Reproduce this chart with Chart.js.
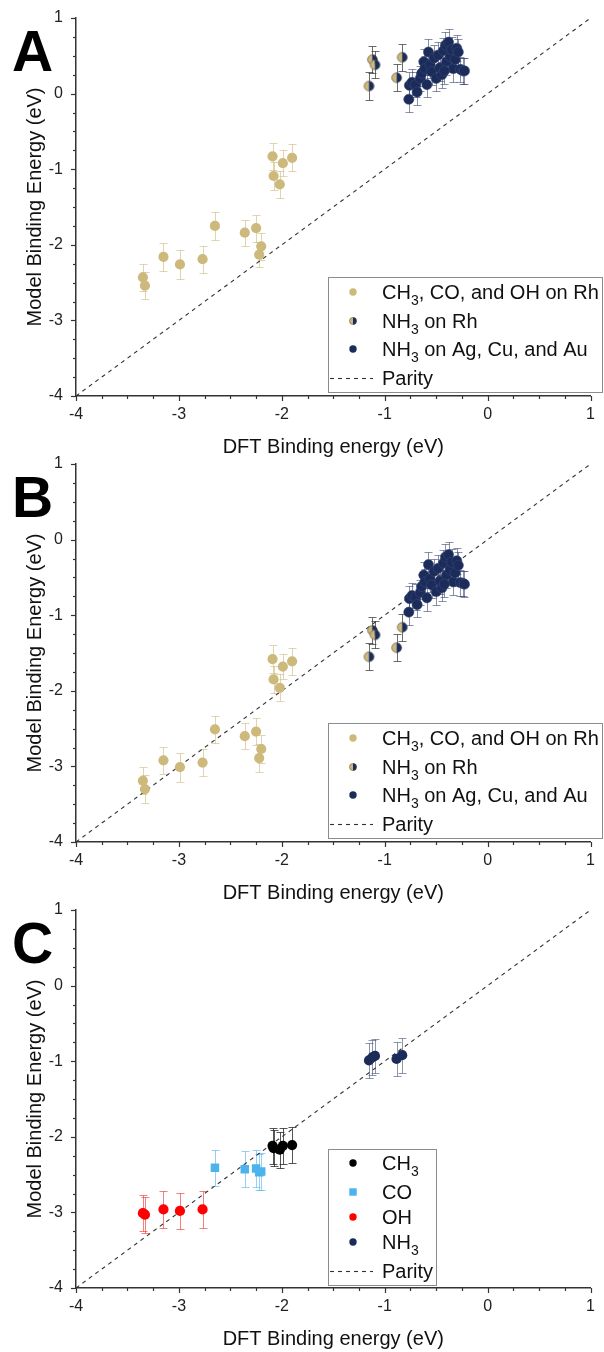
<!DOCTYPE html>
<html>
<head>
<meta charset="utf-8">
<script src="https://cdn.jsdelivr.net/npm/chart.js@4.4.1/dist/chart.umd.min.js"></script>
<style>
  html, body { margin: 0; padding: 0; background: #fff; }
  body { width: 604px; height: 1352px; position: relative; overflow: hidden; }
  canvas { position: absolute; left: 0; }
</style>
</head>
<body>
<canvas id="panelA" width="604" height="460" style="top:0px"></canvas>
<canvas id="panelB" width="604" height="460" style="top:446px"></canvas>
<canvas id="panelC" width="604" height="460" style="top:892px"></canvas>
<script>
// ---- axis ticks ----
const majorTicks = [-4, -3, -2, -1, 0, 1];

// ---- CH3 / CO / OH on Rh: DFT binding energies (eV) ----
const ohDFT  = [-3.35, -3.33, -3.15, -2.99, -2.77];
const coDFT  = [-2.65, -2.36, -2.25, -2.22, -2.20];
const ch3DFT = [-2.09, -2.08, -2.02, -1.99, -1.90];

// model A / model B predictions for the same 15 Rh adsorbates (OH, CO, CH3 order)
const rhModelA = [-2.43, -2.54, -2.16, -2.26, -2.19,  -1.75, -1.84, -1.78, -2.13, -2.02,  -0.83, -1.09, -1.20, -0.92, -0.85];
const rhModelB = [-3.19, -3.30, -2.92, -3.01, -2.95,  -2.51, -2.60, -2.54, -2.89, -2.77,  -1.58, -1.85, -1.96, -1.68, -1.61];
const rhErrA   = [0.18, 0.18, 0.18, 0.19, 0.18,  0.18, 0.17, 0.18, 0.17, 0.18,  0.18, 0.18, 0.18, 0.17, 0.18];
const rhErrB   = [0.18, 0.18, 0.18, 0.19, 0.18,  0.18, 0.17, 0.18, 0.18, 0.18,  0.18, 0.18, 0.18, 0.17, 0.18];

// model C, split per adsorbate
const ohModelC  = [-3.01, -3.03, -2.96, -2.98, -2.96];
const coModelC  = [-2.41, -2.43, -2.42, -2.47, -2.46];
const ch3ModelC = [-2.12, -2.15, -2.17, -2.12, -2.11];
const ohErrC  = [0.24, 0.24, 0.24, 0.24, 0.24];
const coErrC  = [0.24, 0.24, 0.24, 0.24, 0.24];
const ch3ErrC = [0.24, 0.24, 0.24, 0.24, 0.24];

// ---- NH3 on Rh ----
const nh3RhDFT    = [-1.153, -1.12, -1.095, -0.885, -0.83];
const nh3RhModelA = [0.10, 0.45, 0.38, 0.21, 0.48];
const nh3RhModelB = [-1.55, -1.20, -1.26, -1.43, -1.16];
const nh3RhModelC = [-0.99, -0.95, -0.93, -0.97, -0.92];
const nh3RhErrAB  = [0.18, 0.18, 0.18, 0.18, 0.18];
const nh3RhErrC   = [0.23, 0.23, 0.23, 0.23, 0.23];

// ---- NH3 on Ag, Cu and Au ----
const nh3MDFT = [-0.766, -0.760, -0.735, -0.700, -0.685, -0.655, -0.640, -0.620, -0.610, -0.575,
                 -0.560, -0.545, -0.520, -0.500, -0.480, -0.465, -0.445, -0.430, -0.410, -0.400,
                 -0.380, -0.365, -0.350, -0.335, -0.315, -0.300, -0.285, -0.265, -0.240, -0.225,
                 -0.420, -0.590];
const nh3MModelA = [-0.075, 0.11, 0.15, 0.12, 0.02, 0.20, 0.27, 0.42, 0.33, 0.55,
                    0.38, 0.29, 0.47, 0.20, 0.51, 0.34, 0.25, 0.57, 0.64, 0.42,
                    0.68, 0.49, 0.58, 0.33, 0.45, 0.60, 0.55, 0.32, 0.30, 0.30,
                    0.30, 0.12];
const nh3MModelB = [-0.96, -0.78, -0.74, -0.76, -0.86, -0.70, -0.62, -0.47, -0.56, -0.33,
                    -0.52, -0.60, -0.42, -0.69, -0.38, -0.55, -0.64, -0.31, -0.23, -0.47,
                    -0.20, -0.40, -0.30, -0.56, -0.44, -0.28, -0.34, -0.57, -0.58, -0.59,
                    -0.59, -0.77];
const nh3MErr = [0.17, 0.17, 0.17, 0.17, 0.17, 0.17, 0.17, 0.17, 0.17, 0.17,
                 0.17, 0.17, 0.17, 0.17, 0.17, 0.17, 0.17, 0.17, 0.17, 0.17,
                 0.17, 0.17, 0.17, 0.17, 0.17, 0.17, 0.17, 0.17, 0.17, 0.17,
                 0.17, 0.17];

// ---- parity line end points ----
const parityX = [-4, 1];
const parityY = [-4, 1];

// ---- legend texts ([text, isSubscript]) ----
const legendRhAll   = [['CH'], ['3', 1], [', CO, and OH on Rh']];
const legendNH3Rh   = [['NH'], ['3', 1], [' on Rh']];
const legendNH3M    = [['NH'], ['3', 1], [' on Ag, Cu, and Au']];
const legendParity  = [['Parity']];
const legendCH3     = [['CH'], ['3', 1]];
const legendCO      = [['CO']];
const legendOH      = [['OH']];
const legendNH3     = [['NH'], ['3', 1]];

// ---- styling ----
const FONT = '"Liberation Sans", Arial, Helvetica, sans-serif';
const GOLD = '#cdb97c';
const NAVY = '#1b2c5a';
const BLUE = '#4db3ec';
const RED = '#ff0000';
const BLACK = '#000000';
const R = 5.1;

Chart.defaults.font.family = FONT;

const pts = (xs, ys) => xs.map((x, i) => ({ x, y: ys[i] }));
const isMajor = v => majorTicks.includes(Math.round(v * 100) / 100);

function halfMarker(r) {
  const s = Math.ceil(2 * r + 2);
  const c = document.createElement('canvas');
  c.width = s; c.height = s;
  const g = c.getContext('2d');
  const m = s / 2;
  g.beginPath(); g.arc(m, m, r, Math.PI / 2, Math.PI * 1.5); g.closePath();
  g.fillStyle = GOLD; g.fill();
  g.beginPath(); g.arc(m, m, r, -Math.PI / 2, Math.PI / 2); g.closePath();
  g.fillStyle = NAVY; g.fill();
  g.beginPath(); g.arc(m, m, r - 0.3, 0, Math.PI * 2);
  g.strokeStyle = 'rgba(70,70,70,0.8)'; g.lineWidth = 0.7; g.stroke();
  return c;
}
const HALF = halfMarker(R);

function drawRich(ctx, segs, x, y) {
  // y = alphabetic baseline of the main text
  let cx = x;
  segs.forEach(([t, sub]) => {
    ctx.font = sub ? `14px ${FONT}` : `20px ${FONT}`;
    ctx.fillText(t, cx, sub ? y + 5.5 : y);
    cx += ctx.measureText(t).width;
  });
}

function drawMarker(ctx, kind, color, x, y) {
  ctx.save();
  if (kind === 'circle') {
    ctx.beginPath(); ctx.arc(x, y, 3.7, 0, Math.PI * 2);
    ctx.fillStyle = color; ctx.fill();
  } else if (kind === 'rect') {
    ctx.fillStyle = color; ctx.fillRect(x - 3.7, y - 3.7, 7.4, 7.4);
  } else if (kind === 'half') {
    ctx.beginPath(); ctx.arc(x, y, 3.7, Math.PI / 2, Math.PI * 1.5); ctx.closePath();
    ctx.fillStyle = GOLD; ctx.fill();
    ctx.beginPath(); ctx.arc(x, y, 3.7, -Math.PI / 2, Math.PI / 2); ctx.closePath();
    ctx.fillStyle = NAVY; ctx.fill();
    ctx.beginPath(); ctx.arc(x, y, 3.5, 0, Math.PI * 2);
    ctx.strokeStyle = 'rgba(70,70,70,0.7)'; ctx.lineWidth = 0.6; ctx.stroke();
  } else if (kind === 'dash') {
    ctx.strokeStyle = '#333'; ctx.lineWidth = 1.1; ctx.setLineDash([4, 4]);
    ctx.beginPath(); ctx.moveTo(x - 23, y + 0.5); ctx.lineTo(x + 20, y + 0.5); ctx.stroke();
  }
  ctx.restore();
}

// error bars, minor/major ticks, y tick labels, axis titles, panel letter and legend box
const decor = {
  id: 'decor',
  beforeDatasetsDraw(chart) {
    const ctx = chart.ctx, xs = chart.scales.x, ys = chart.scales.y;
    ctx.save();
    ctx.lineWidth = 1;
    chart.data.datasets.forEach(ds => {
      if (!ds.errors) return;
      ctx.strokeStyle = ds.errorColor;
      ds.data.forEach((p, j) => {
        const e = ds.errors[j];
        const x = Math.round(xs.getPixelForValue(p.x)) + 0.5;
        const y1 = Math.round(ys.getPixelForValue(p.y + e)) + 0.5;
        const y2 = Math.round(ys.getPixelForValue(p.y - e)) + 0.5;
        ctx.beginPath();
        ctx.moveTo(x, y1); ctx.lineTo(x, y2);
        ctx.moveTo(x - 4, y1); ctx.lineTo(x + 4, y1);
        ctx.moveTo(x - 4, y2); ctx.lineTo(x + 4, y2);
        ctx.stroke();
      });
    });
    ctx.restore();
  },
  afterDraw(chart, args, opts) {
    const ctx = chart.ctx, xs = chart.scales.x, ys = chart.scales.y;
    const area = chart.chartArea;
    ctx.save();
    // tick marks: majors on integers, three minors in between
    ctx.strokeStyle = '#333'; ctx.lineWidth = 1.2;
    for (let k = 0; k <= 20; k++) {
      const v = majorTicks[0] + k * 0.25;
      const len = (k % 4 === 0) ? 5 : 3;
      const px = Math.round(xs.getPixelForValue(v)) + 0.5;
      ctx.beginPath(); ctx.moveTo(px, area.bottom); ctx.lineTo(px, area.bottom + len); ctx.stroke();
      const py = Math.round(ys.getPixelForValue(v)) + 0.5;
      ctx.beginPath(); ctx.moveTo(area.left, py); ctx.lineTo(area.left - len, py); ctx.stroke();
    }
    // y tick labels, right aligned
    ctx.fillStyle = '#222';
    ctx.font = `16px ${FONT}`;
    ctx.textAlign = 'right'; ctx.textBaseline = 'middle';
    majorTicks.forEach(v => ctx.fillText(String(v), area.left - 13, ys.getPixelForValue(v)));
    // axis titles
    ctx.fillStyle = '#111';
    ctx.font = `20px ${FONT}`;
    ctx.textAlign = 'center'; ctx.textBaseline = 'alphabetic';
    ctx.fillText('DFT Binding energy (eV)', (area.left + area.right) / 2, area.bottom + 57);
    ctx.save();
    ctx.translate(41, (area.top + area.bottom) / 2);
    ctx.rotate(-Math.PI / 2);
    ctx.fillText('Model Binding Energy (eV)', 0, 0);
    ctx.restore();
    // panel letter
    ctx.textAlign = 'left';
    ctx.fillStyle = '#000';
    ctx.font = `bold 57px ${FONT}`;
    ctx.fillText(opts.letter, 12, 71);
    // legend
    const L = opts.legend;
    ctx.strokeStyle = '#8c8c8c'; ctx.lineWidth = 1;
    ctx.strokeRect(L.box[0] + 0.5, L.box[1] + 0.5, L.box[2] - L.box[0], L.box[3] - L.box[1]);
    L.rows.forEach(r => {
      drawMarker(ctx, r.marker, r.color, L.markerX, r.y);
      ctx.fillStyle = '#111';
      drawRich(ctx, r.text, L.textX, r.y + 7);
    });
    ctx.restore();
  }
};

function parityDataset() {
  return {
    data: pts(parityX, parityY), showLine: true, pointRadius: 0,
    borderColor: '#333', borderWidth: 1.1, borderDash: [4, 4], fill: false
  };
}

function makeChart(id, datasets, letter, legend) {
  return new Chart(document.getElementById(id), {
    type: 'scatter',
    data: { datasets },
    options: {
      responsive: false, animation: false, devicePixelRatio: 1,
      layout: { padding: { top: 18, right: 12, bottom: 0, left: 49 } },
      plugins: { legend: { display: false }, tooltip: { enabled: false }, decor: { letter, legend } },
      scales: {
        x: {
          type: 'linear', min: -4, max: 1,
          afterFit(s) { s.height = 64; },
          grid: { display: false, drawTicks: false },
          border: { display: true, color: '#333', width: 1.5 },
          ticks: {
            stepSize: 0.25, autoSkip: false, maxRotation: 0, minRotation: 0, padding: 9,
            color: '#222', font: { size: 16 },
            callback: v => isMajor(v) ? String(v) : ''
          }
        },
        y: {
          type: 'linear', min: -4, max: 1,
          afterFit(s) { s.width = 27; },
          grid: { display: false, drawTicks: false },
          border: { display: true, color: '#333', width: 1.5 },
          ticks: { display: false, stepSize: 0.25 }
        }
      }
    },
    plugins: [decor]
  });
}

const rhDFT = ohDFT.concat(coDFT, ch3DFT);

const legendAB = {
  box: [328, 277, 602, 392], markerX: 353, textX: 382,
  rows: [
    { y: 292, marker: 'circle', color: GOLD, text: legendRhAll },
    { y: 321, marker: 'half', color: NAVY, text: legendNH3Rh },
    { y: 349, marker: 'circle', color: NAVY, text: legendNH3M },
    { y: 378, marker: 'dash', color: '#333', text: legendParity }
  ]
};

function panelABsets(rhModel, rhErr, nh3RhModel, nh3MModel) {
  return [
    { data: pts(rhDFT, rhModel), backgroundColor: GOLD, borderWidth: 0, pointRadius: R,
      errors: rhErr, errorColor: 'rgba(205,185,124,0.6)' },
    { data: pts(nh3RhDFT, nh3RhModel), pointStyle: HALF, pointRadius: R,
      errors: nh3RhErrAB, errorColor: 'rgba(60,60,60,0.75)' },
    { data: pts(nh3MDFT, nh3MModel), backgroundColor: NAVY, borderColor: 'rgba(60,75,120,0.9)',
      borderWidth: 0.6, pointRadius: R, errors: nh3MErr, errorColor: 'rgba(40,56,100,0.55)' },
    parityDataset()
  ];
}

makeChart('panelA', panelABsets(rhModelA, rhErrA, nh3RhModelA, nh3MModelA), 'A', legendAB);
makeChart('panelB', panelABsets(rhModelB, rhErrB, nh3RhModelB, nh3MModelB), 'B', legendAB);

makeChart('panelC', [
  { data: pts(ch3DFT, ch3ModelC), backgroundColor: BLACK, borderWidth: 0, pointRadius: R,
    errors: ch3ErrC, errorColor: 'rgba(30,30,30,0.75)' },
  { data: pts(coDFT, coModelC), backgroundColor: BLUE, borderWidth: 0, pointRadius: 6, pointStyle: 'rect',
    errors: coErrC, errorColor: 'rgba(77,179,236,0.6)' },
  { data: pts(ohDFT, ohModelC), backgroundColor: RED, borderWidth: 0, pointRadius: R,
    errors: ohErrC, errorColor: 'rgba(240,40,40,0.6)' },
  { data: pts(nh3RhDFT, nh3RhModelC), backgroundColor: NAVY, borderWidth: 0, pointRadius: R,
    errors: nh3RhErrC, errorColor: 'rgba(50,64,105,0.55)' },
  parityDataset()
], 'C', {
  box: [328, 257, 436, 393], markerX: 353, textX: 382,
  rows: [
    { y: 271, marker: 'circle', color: BLACK, text: legendCH3 },
    { y: 300, marker: 'rect', color: BLUE, text: legendCO },
    { y: 325, marker: 'circle', color: RED, text: legendOH },
    { y: 350, marker: 'circle', color: NAVY, text: legendNH3 },
    { y: 379, marker: 'dash', color: '#333', text: legendParity }
  ]
});
</script>
</body>
</html>
